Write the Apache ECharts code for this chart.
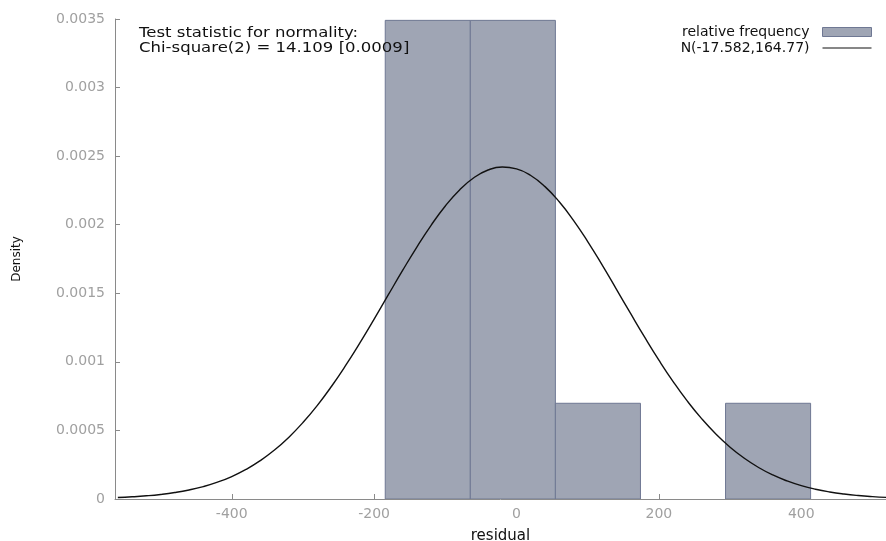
<!DOCTYPE html>
<html>
<head>
<meta charset="utf-8">
<script src="https://cdn.jsdelivr.net/npm/echarts@6/dist/echarts.min.js"></script>
<style>
html,body{margin:0;padding:0;background:#fff;overflow:hidden;}
#chart{width:886px;height:541px;}
</style>
</head>
<body>
<div id="chart"></div>
<script>
// Histogram bins (residual), density values
var binLeft  = [-184.4, -64.9, 54.6, 293.6];
var binRight = [-64.9, 54.6, 174.1, 413.1];
var binDensity = [0.00349, 0.00349, 0.000698, 0.000698];

// Normal curve N(-17.582,164.77) read at points
var curveX = [-560, -540, -520, -500, -480, -460, -440, -420, -400, -380, -360, -340, -320, -300, -280, -260, -240, -220, -200, -180, -160, -140, -120, -100, -80, -60, -40, -20, 0, 20, 40, 60, 80, 100, 120, 140, 160, 180, 200, 220, 240, 260, 280, 300, 320, 340, 360, 380, 400, 420, 440, 460, 480, 500, 520];
var curveY = [0.0000107, 0.0000159, 0.0000232, 0.0000333, 0.0000472, 0.0000659, 0.0000905, 0.0001227, 0.0001638, 0.0002155, 0.0002795, 0.0003569, 0.0004493, 0.0005573, 0.0006812, 0.0008204, 0.0009735, 0.0011384, 0.0013118, 0.0014895, 0.0016665, 0.0018373, 0.0019959, 0.0021365, 0.0022536, 0.0023423, 0.0023989, 0.0024209, 0.0024075, 0.0023590, 0.0022778, 0.0021672, 0.0020318, 0.0018770, 0.0017086, 0.0015326, 0.0013546, 0.0011797, 0.0010124, 0.0008562, 0.0007134, 0.0005858, 0.0004740, 0.0003778, 0.0002969, 0.0002298, 0.0001752, 0.0001317, 0.0000976, 0.0000712, 0.0000512, 0.0000363, 0.0000253, 0.0000174, 0.0000118];

var xTicks = [-400, -200, 0, 200, 400];

var histData = binLeft.map(function (l, i) { return [l, binRight[i], binDensity[i]]; });
var curveData = curveX.map(function (x, i) { return [x, curveY[i]]; });

var chart = echarts.init(document.getElementById('chart'));
var font = 'DejaVu Sans';
chart.setOption({
  animation: false,
  backgroundColor: '#fff',
  textStyle: { fontFamily: font },
  grid: { left: 115, right: 0, top: 19, bottom: 42, containLabel: false, outerBoundsMode: 'none' },
  legend: {
    orient: 'vertical',
    right: 9,
    top: 20,
    align: 'right',
    itemGap: 2,
    itemWidth: 49,
    itemHeight: 9,
    textStyle: { fontFamily: font, fontSize: 14, color: '#111', padding: [0, 8, 0, 0] },
    data: [
      { name: 'relative frequency', icon: 'rect', itemStyle: { color: '#9fa5b4', borderColor: '#6f7893', borderWidth: 1 } },
      { name: 'N(-17.582,164.77)', icon: 'path://M0,0L49,0L49,1L0,1Z', itemStyle: { color: '#111' } }
    ]
  },
  xAxis: {
    type: 'value',
    min: -564,
    max: 519,
    name: 'residual',
    nameLocation: 'middle',
    nameGap: 30,
    nameTextStyle: { fontFamily: font, fontSize: 15, color: '#111' },
    axisLine: { onZero: false, lineStyle: { color: '#8a8a8a', width: 1 } },
    axisTick: { show: true, inside: true, length: 5, customValues: xTicks, lineStyle: { color: '#8a8a8a' } },
    axisLabel: { customValues: xTicks, color: '#a0a0a0', fontSize: 14, margin: 8, fontFamily: font },
    splitLine: { show: false }
  },
  yAxis: {
    type: 'value',
    min: 0,
    max: 0.0035,
    interval: 0.0005,
    name: 'Density',
    nameLocation: 'middle',
    nameGap: 92,
    nameTextStyle: { fontFamily: font, fontSize: 12, color: '#111' },
    axisLine: { show: true, onZero: false, lineStyle: { color: '#8a8a8a', width: 1 } },
    axisTick: { show: true, inside: true, length: 5, lineStyle: { color: '#8a8a8a' } },
    axisLabel: { color: '#a0a0a0', fontSize: 14, margin: 10, fontFamily: font,
      formatter: function (v) { return String(+v.toFixed(4)); } },
    splitLine: { show: false }
  },
  graphic: [
    { type: 'text', x: 139, y: 26, z: 100, scaleX: 1.18, style: { text: 'Test statistic for normality:', font: '14px "DejaVu Sans"', fill: '#111' } },
    { type: 'text', x: 139, y: 41, z: 100, scaleX: 1.18, style: { text: 'Chi-square(2) = 14.109 [0.0009]', font: '14px "DejaVu Sans"', fill: '#111' } }
  ],
  series: [
    {
      name: 'relative frequency',
      type: 'custom',
      clip: true,
      data: histData,
      encode: { x: [0, 1], y: 2 },
      itemStyle: { color: '#9fa5b4', borderColor: '#6f7893', borderWidth: 1 },
      renderItem: function (params, api) {
        var p0 = api.coord([api.value(0), api.value(2)]);
        var p1 = api.coord([api.value(1), 0]);
        return {
          type: 'rect',
          shape: { x: p0[0], y: p0[1], width: p1[0] - p0[0], height: p1[1] - p0[1] },
          style: { fill: '#9fa5b4', stroke: '#6f7893', lineWidth: 1 }
        };
      }
    },
    {
      name: 'N(-17.582,164.77)',
      type: 'line',
      data: curveData,
      smooth: true,
      symbol: 'none',
      lineStyle: { color: '#111', width: 1.4 },
      z: 5
    }
  ]
});
</script>
</body>
</html>
